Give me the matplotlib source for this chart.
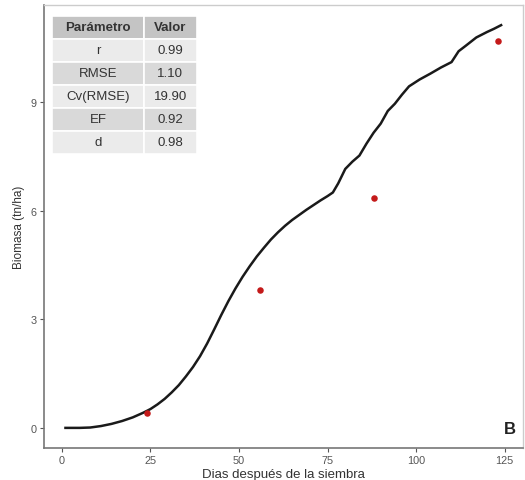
import matplotlib
matplotlib.use("Agg")
import matplotlib.pyplot as plt

plt.rcParams['font.family'] = ['Liberation Sans', 'DejaVu Sans']

# simulated biomass curve
dias = [1, 5, 8, 11, 14, 17, 20, 23, 25, 27, 29, 31, 33, 35, 37, 39, 41, 43, 45, 47,
        49, 51, 53, 55, 57, 59, 61, 63, 65, 67, 69, 71, 73, 75, 76.5, 78, 80, 82, 84,
        86, 88, 90, 92, 94, 96, 98, 101, 104, 107, 110, 112, 114, 117, 120, 122, 124]
biomasa = [0.0, 0.0, 0.01, 0.05, 0.11, 0.19, 0.29, 0.42, 0.52, 0.65, 0.80, 0.98, 1.18,
           1.42, 1.68, 1.98, 2.33, 2.72, 3.12, 3.50, 3.85, 4.17, 4.46, 4.73, 4.97, 5.20,
           5.40, 5.58, 5.74, 5.88, 6.02, 6.15, 6.28, 6.40, 6.50, 6.75, 7.15, 7.35, 7.52,
           7.85, 8.15, 8.40, 8.75, 8.95, 9.20, 9.43, 9.62, 9.78, 9.95, 10.10, 10.40,
           10.55, 10.78, 10.93, 11.02, 11.12]

# observed values
dias_obs = [24, 56, 88, 123]
biomasa_obs = [0.42, 3.81, 6.35, 10.68]

# stats table
parametros = ["r", "RMSE", "Cv(RMSE)", "EF", "d"]
valores = ["0.99", "1.10", "19.90", "0.92", "0.98"]

fig = plt.figure(figsize=(5.25, 4.81), dpi=100)
ax = fig.add_axes([0.0832, 0.0665, 0.9128, 0.921])

ax.plot(dias, biomasa, color='#1a1a1a', lw=1.8, zorder=2, solid_joinstyle='round')
ax.scatter(dias_obs, biomasa_obs, s=22, color='#c41a1a', zorder=3, linewidths=0)

ax.set_xlim(-5.15, 130.15)
ax.set_ylim(-0.556, 11.676)
ax.set_xticks([0, 25, 50, 75, 100, 125])
ax.set_yticks([0, 3, 6, 9])
ax.tick_params(axis='both', length=3, width=0.8, color='#555555',
               labelsize=7.8, labelcolor='#555555', pad=2)

for s in ['top', 'right']:
    ax.spines[s].set_color('#cccccc')
    ax.spines[s].set_linewidth(1.0)
for s in ['left', 'bottom']:
    ax.spines[s].set_color('#777777')
    ax.spines[s].set_linewidth(1.2)

ax.set_xlabel("Dias después de la siembra", fontsize=9.5, color='#333333', labelpad=2)
ax.set_ylabel("Biomasa (tn/ha)", fontsize=8.5, color='#333333', labelpad=4)

ax.text(0.985, 0.045, "B", transform=ax.transAxes, ha='right', va='center',
        fontsize=12, fontweight='bold', color='#222222')

cells = [[p, v] for p, v in zip(parametros, valores)]
row_cols = ['#ebebeb', '#d9d9d9']
colours = [[row_cols[i % 2]] * 2 for i in range(len(cells))]
tab = ax.table(cellText=cells, colLabels=["Parámetro", "Valor"],
               cellColours=colours, colColours=['#c4c4c4', '#c4c4c4'],
               cellLoc='center', colWidths=[0.634, 0.366],
               bbox=[0.0173, 0.664, 0.3025, 0.3115])
tab.auto_set_font_size(False)
for (r, c), cell in tab.get_celld().items():
    cell.set_edgecolor('white')
    cell.set_linewidth(1.2)
    cell.set_fontsize(9.5)
    cell.get_text().set_color('#333333')
    if r == 0:
        cell.get_text().set_fontweight('bold')

fig.savefig("out.png", dpi=100, facecolor='white')
